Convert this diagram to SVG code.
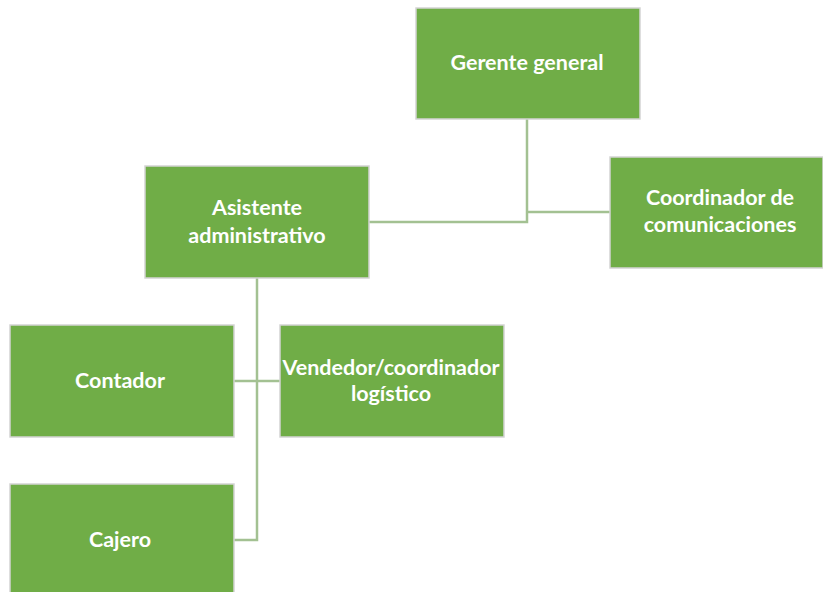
<svg xmlns="http://www.w3.org/2000/svg" width="823" height="592" viewBox="0 0 823 592">
  <style>
    .box { fill: #70ad47; stroke: #d4d4d4; stroke-width: 1.5; }
    .lbl { fill: #ffffff; font-family: Lato, "Liberation Sans", sans-serif; font-weight: bold; font-size: 21.5px; text-anchor: middle; dominant-baseline: central; }
    .link { fill: none; stroke: #a3c192; stroke-width: 2.5; }
  </style>
  <rect width="823" height="592" fill="#ffffff"/>

  <g id="connectors">
    <polyline class="link" points="527,119 527,222 369,222"/>
    <polyline class="link" points="527,212 610,212"/>
    <polyline class="link" points="257,278 257,540 234,540"/>
    <polyline class="link" points="234,381 280,381"/>
  </g>

  <g id="gerente-general">
    <rect class="box" x="416" y="8" width="224" height="111"/>
    <text class="lbl" x="527" y="62">Gerente general</text>
  </g>

  <g id="asistente-administrativo">
    <rect class="box" x="145" y="166" width="224" height="112"/>
    <text class="lbl" x="257" y="207">Asistente</text>
    <text class="lbl" x="257" y="235">administrativo</text>
  </g>

  <g id="coordinador-comunicaciones">
    <rect class="box" x="610" y="157" width="213" height="111"/>
    <text class="lbl" x="720" y="197">Coordinador de</text>
    <text class="lbl" x="720" y="224">comunicaciones</text>
  </g>

  <g id="contador">
    <rect class="box" x="10" y="325" width="224" height="112"/>
    <text class="lbl" x="120" y="380">Contador</text>
  </g>

  <g id="vendedor-coordinador">
    <rect class="box" x="280" y="325" width="224" height="112"/>
    <text class="lbl" x="391" y="367">Vendedor/coordinador</text>
    <text class="lbl" x="391" y="393">logístico</text>
  </g>

  <g id="cajero">
    <rect class="box" x="10" y="484" width="224" height="120"/>
    <text class="lbl" x="120" y="539">Cajero</text>
  </g>
</svg>
